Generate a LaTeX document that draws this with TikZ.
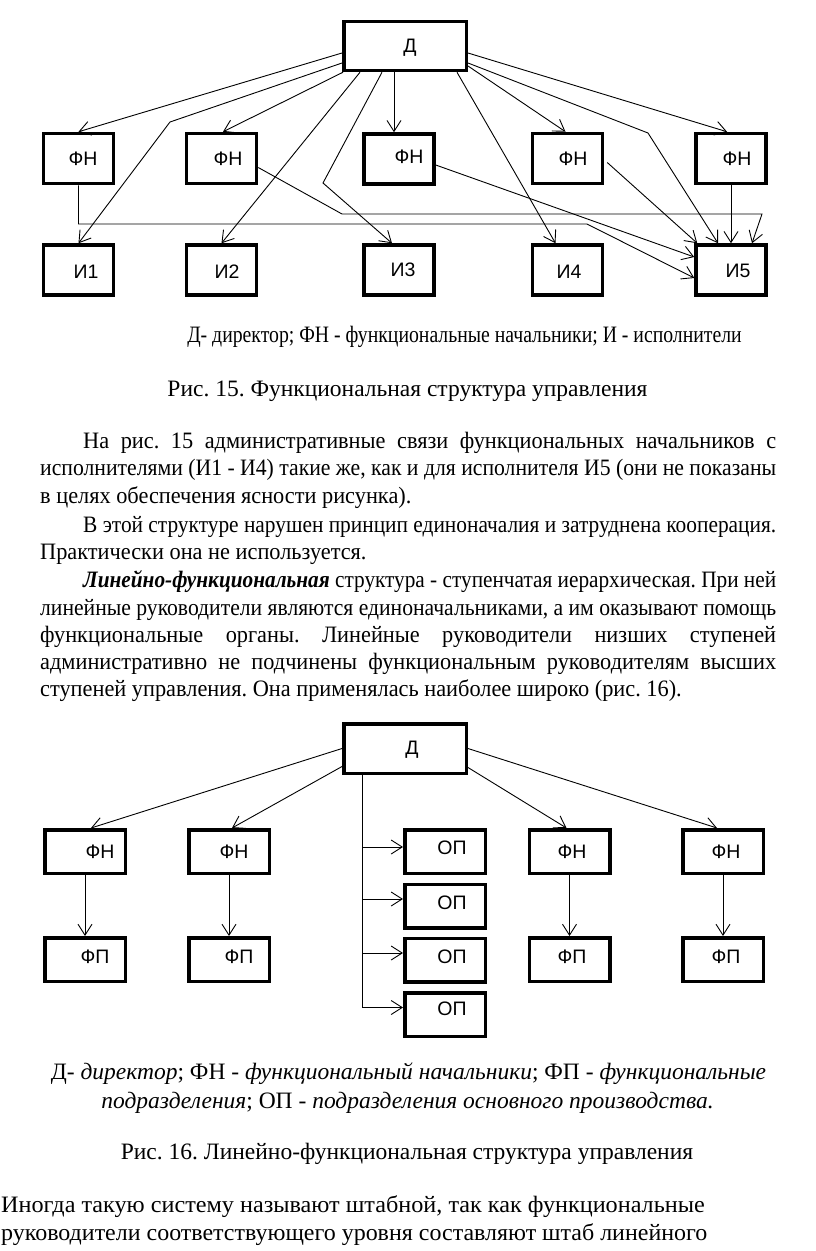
\documentclass[tikz,border=0pt]{standalone}
\usepackage{fontspec}
\setmainfont{Liberation Serif}
\newfontfamily\boxfont{Liberation Sans}
\newfontfamily\bodyfont[FakeStretch=0.95]{Liberation Serif}
\usetikzlibrary{arrows.meta}
\newsavebox{\linebox}
\newcommand{\jline}[2]{\sbox{\linebox}{#2}%
  \ifdim\wd\linebox>#1\relax\resizebox{#1}{\height}{\usebox{\linebox}}%
  \else\makebox[#1][s]{#2}\fi}

\tikzset{
  unitbox/.style={draw, line width=3.5pt, inner sep=0pt, minimum width=70pt, minimum height=50pt},
  widebox/.style={unitbox, minimum width=80.5pt, minimum height=43.5pt},
  headbox/.style={unitbox, minimum width=122.5pt, minimum height=49pt},
  boxlbl/.style={font=\boxfont\fontsize{19.5}{20}\selectfont},
  arr/.style={line width=0.9pt, -{Straight Barb[length=11pt,width=14pt]}},
  plain/.style={line width=0.9pt},
  txt/.style={font=\fontsize{23.5}{26}\selectfont, inner sep=0pt, anchor=base west},
  ptxt/.style={txt, font=\bodyfont\fontsize{23.5}{26}\selectfont},
  ctxt/.style={txt, anchor=base},
}

\begin{document}
\frenchspacing
\begin{tikzpicture}[x=1pt, y=-1pt]
  \useasboundingbox (0,0) rectangle (816,1251);

  % Fig. 15
  \node[headbox, label={[boxlbl, xshift=5pt, yshift=-2pt]center:Д}] (d1) at (405,46) {};
  \node[unitbox, label={[boxlbl, xshift=4.5pt]center:ФН}] (fnA1) at (78.5,158.5) {};
  \node[unitbox, label={[boxlbl, xshift=6.5pt]center:ФН}] (fnA2) at (221.5,158.5) {};
  \node[unitbox, label={[boxlbl, xshift=10pt, yshift=2pt]center:ФН}] (fnA3) at (399,159) {};
  \node[unitbox, label={[boxlbl, xshift=5.5pt]center:ФН}] (fnA4) at (567.5,158.5) {};
  \node[unitbox, label={[boxlbl, xshift=6pt]center:ФН}] (fnA5) at (731,158.5) {};
  \node[unitbox, label={[boxlbl, xshift=7.5pt, yshift=-2pt]center:И1}] (iA1) at (78.5,270) {};
  \node[unitbox, label={[boxlbl, xshift=5.5pt, yshift=-2pt]center:И2}] (iA2) at (221.5,270) {};
  \node[unitbox, label={[boxlbl, xshift=4pt]center:И3}] (iA3) at (399,270) {};
  \node[unitbox, label={[boxlbl, xshift=1.5pt, yshift=-2pt]center:И4}] (iA4) at (567.5,270) {};
  \node[unitbox, label={[boxlbl, xshift=7pt, yshift=-1pt]center:И5}] (iA5) at (731,270) {};

  \draw[arr] ([yshift=-7pt]d1.west) -- (fnA1.north);
  \draw[arr] ([yshift=-17pt]d1.west) -- (170,122) -- (iA1.north);
  \draw[arr] ([xshift=1pt]d1.south west) -- ([xshift=1.5pt]fnA2.north);
  \draw[arr] ([xshift=18pt]d1.south west) -- (iA2.north);
  \draw[arr] ([xshift=40pt]d1.south west) -- (323,183) -- ([xshift=-7pt]iA3.north);
  \draw[arr] ([xshift=-11pt]d1.south) -- ([xshift=-5pt]fnA3.north);
  \draw[arr] ([xshift=-11pt]d1.south east) -- ([xshift=-12pt]iA4.north);
  \draw[arr] ([yshift=-7pt]d1.east) -- ([xshift=-4pt]fnA5.north);
  \draw[arr] ([yshift=-17pt]d1.east) -- (648,133) -- ([xshift=-13pt]iA5.north);
  \draw[arr] ([yshift=-20pt]d1.east) -- ([xshift=-2pt]fnA4.north);
  \draw[arr] ([yshift=-9pt]fnA2.east) -- (342,214) -- (762,214) -- ([xshift=21pt]iA5.north);
  \draw[arr] (fnA1.south) -- (78.5,224) -- (587,224) -- ([yshift=-8pt]iA5.west);
  \draw[arr] ([yshift=-6pt]fnA3.east) -- ([yshift=13pt]iA5.west);
  \draw[arr] ([xshift=3pt, yshift=-4pt]fnA4.east) -- ([xshift=3pt]iA5.north west);
  \draw[arr] (fnA5.south) -- (iA5.north);

  \node[ctxt] (capA) at (464.5,342) {\scalebox{0.84}[1]{Д- директор; ФН - функциональные начальники; И - исполнители}};
  \node[ctxt] (figA) at (407.5,396) {Рис. 15. Функциональная структура управления};

  % text
  \node[ptxt] (p1a) at (83,448) {\jline{693pt}{На рис. 15 административные связи функциональных начальников с}};
  \node[ptxt] (p1b) at (40,475) {\jline{736pt}{исполнителями (И1 - И4) такие же, как и для исполнителя И5 (они не показаны}};
  \node[ptxt] (p1c) at (40,503) {в целях обеспечения ясности рисунка).};
  \node[ptxt] (p2a) at (83,532) {\jline{693pt}{В этой структуре нарушен принцип единоначалия и затруднена кооперация.}};
  \node[ptxt] (p2b) at (40,559) {Практически она не используется.};
  \node[ptxt] (p3a) at (83,587) {\jline{693pt}{\textbf{\textit{Линейно-функциональная}} структура - ступенчатая иерархическая. При ней}};
  \node[ptxt] (p3b) at (40,615) {\jline{736pt}{линейные руководители являются единоначальниками, а им оказывают помощь}};
  \node[ptxt] (p3c) at (40,642) {\jline{736pt}{функциональные органы. Линейные руководители низших ступеней}};
  \node[ptxt] (p3d) at (40,669) {\jline{736pt}{административно не подчинены функциональным руководителям высших}};
  \node[ptxt] (p3e) at (40,696) {ступеней управления. Она применялась наиболее широко (рис. 16).};

  % Fig. 16
  \node[headbox, minimum height=49.5pt, label={[boxlbl, xshift=7pt, yshift=-1.5pt]center:Д}] (d2) at (405,748.5) {};
  \foreach \n/\x/\dx/\px in {1/85/15/10, 2/229/5/10, 3/569.5/2.5/2.5, 4/723/3/3} {
    \node[widebox, label={[boxlbl, xshift=\dx pt]center:ФН}] (fnB\n) at (\x,851.5) {};
    \node[widebox, label={[boxlbl, xshift=\px pt, yshift=2.5pt]center:ФП}] (fpB\n) at (\x,959.5) {};
    \draw[arr] (fnB\n.south) -- (fpB\n.north);
  }
  \foreach \n/\y/\dy in {1/851.5/3.5, 2/906/3, 3/960/3, 4/1014.5/5.5} {
    \node[widebox, label={[boxlbl, xshift=7pt, yshift=\dy pt]center:ОП}] (op\n) at (445,\y) {};
  }
  \draw[arr] (d2.west) -- ([xshift=6pt]fnB1.north);
  \draw[arr] ([yshift=-18pt]d2.west) -- ([xshift=3pt]fnB2.north);
  \draw[arr] ([yshift=-19pt]d2.east) -- ([xshift=-3pt]fnB3.north);
  \draw[arr] (d2.east) -- ([xshift=-6pt]fnB4.north);
  \coordinate (trunk) at ([xshift=20pt]d2.south west);
  \draw[arr] (trunk) |- ([yshift=7pt]op4.west);
  \foreach \n/\dy in {1/4.5, 2/7, 3/7} {
    \coordinate (opin\n) at ([yshift=\dy pt]op\n.west);
    \draw[arr] (trunk |- opin\n) -- (opin\n);
  }

  \node[ctxt] (capB1) at (408.5,1079) {Д- \textit{директор}; ФН - \textit{функциональный начальники}; ФП - \textit{функциональные}};
  \node[ctxt] (capB2) at (407.5,1108) {\textit{подразделения}; ОП - \textit{подразделения основного производства.}};
  \node[ctxt] (figB) at (407,1159) {Рис. 16. Линейно-функциональная структура управления};

  \node[txt] (p4a) at (1,1212) {\scalebox{1.03}[1]{Иногда такую систему называют штабной, так как функциональные}};
  \node[txt] (p4b) at (1,1240) {\scalebox{1.02}[1]{руководители соответствующего уровня составляют штаб линейного}};
\end{tikzpicture}
\end{document}
